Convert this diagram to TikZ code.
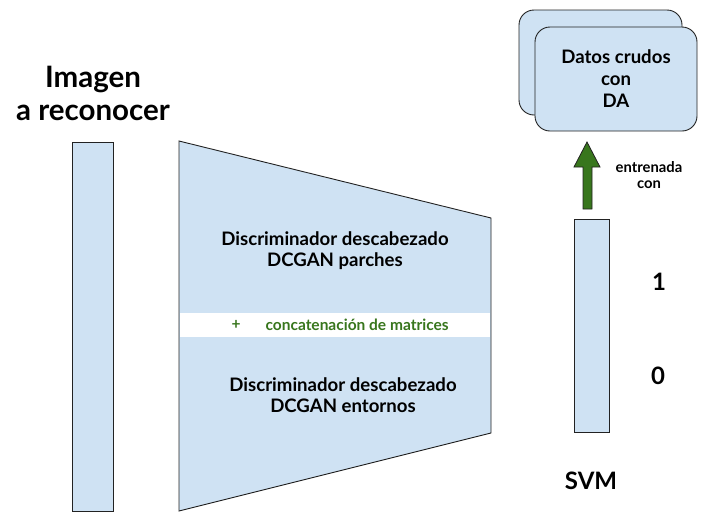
\documentclass[tikz,border=0pt]{standalone}
\usepackage{fontspec}
\setmainfont{Lato}
\definecolor{boxblue}{HTML}{CFE2F3}
\definecolor{edge}{HTML}{222222}
\definecolor{dgreen}{HTML}{38761D}
\begin{document}
\begin{tikzpicture}[x=1pt,y=-1pt,
  blk/.style={draw=edge,fill=boxblue,line width=0.9pt},
  rbox/.style={blk,rounded corners=15pt},
  lbl/.style={font=\bfseries\fontsize{18.6}{21}\selectfont,align=center,text=black},
  big/.style={font=\bfseries\fontsize{24}{30}\selectfont,text=black}]
\useasboundingbox (0,0) rectangle (715,520);
% input bar
\draw[blk] (72,142) rectangle (113,511);
\node[font=\bfseries\fontsize{29.5}{33}\selectfont,align=center] (title) at (93,93) {Imagen\\a reconocer};
% trapezoid
\draw[blk] (179,141) -- (491,218) -- (491,433) -- (179,511) -- cycle;
\fill[white] (179.6,313) rectangle (490.4,337);
\node[lbl] (d1) at (335,251) {Discriminador descabezado\\DCGAN parches};
\node[lbl] (d2) at (343,395) {Discriminador descabezado\\DCGAN entornos};
\node[font=\bfseries\fontsize{15.5}{18}\selectfont,text=dgreen] (plus) at (236,325) {+};
\node[font=\bfseries\fontsize{15.5}{18}\selectfont,text=dgreen,anchor=west] (concat) at (262,325) {concatenación de matrices};
% SVM bar
\draw[blk] (574,219) rectangle (609,432);
\node[big] (one) at (659,282) {1};
\node[big] (zero) at (658,376) {0};
\node[big] (svm) at (591,481) {SVM};
% data boxes
\draw[rbox] (519,10) rectangle (682,115);
\draw[rbox] (535,27) rectangle (697,131);
\node[lbl,font=\bfseries\fontsize{18.6}{22}\selectfont] (datos) at (616,79) {Datos crudos\\con\\DA};
% green arrow
\draw[draw=edge,fill=dgreen,line width=0.8pt] (583,209) -- (583,167) -- (574,167) -- (587,142) -- (600,167) -- (592,167) -- (592,209) -- cycle;
\node[font=\bfseries\fontsize{14.8}{16.5}\selectfont,align=center] (entr) at (649,175) {entrenada\\con};
\end{tikzpicture}
\end{document}
